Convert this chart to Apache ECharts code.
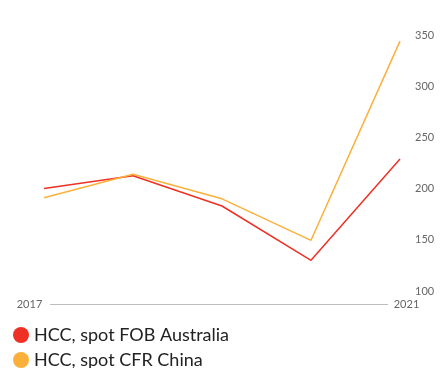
<!DOCTYPE html>
<html>
<head>
<meta charset="utf-8">
<script src="https://cdn.jsdelivr.net/npm/echarts@6/dist/echarts.min.js"></script>
<style>
  html, body { margin: 0; padding: 0; background: #fff; }
  #chart { width: 442px; height: 368px; }
</style>
</head>
<body>
<div id="chart"></div>
<script>
// Coking coal price series (USD/t), yearly
const years = ['2017', '2018', '2019', '2020', '2021'];
const fobAustralia = [200, 212.5, 183, 130, 229];
const cfrChina = [191, 214, 190, 149.5, 344];
const seriesNames = ['HCC, spot FOB Australia', 'HCC, spot CFR China'];
const yTicks = { min: 100, max: 350, step: 50 };

const FONT = 'Lato, "Noto Sans", sans-serif';
const RED = '#ee3124';
const ORANGE = '#fbb03b';

const chart = echarts.init(document.getElementById('chart'));

chart.setOption({
  animation: false,
  textStyle: { fontFamily: FONT },
  grid: { left: 44, right: 42, top: 35, bottom: 77 },
  legend: {
    orient: 'vertical',
    left: 13,
    top: 326,
    height: 80,
    padding: 0,
    icon: 'circle',
    itemWidth: 16,
    itemHeight: 16,
    itemGap: 7,
    selectedMode: false,
    textStyle: { fontSize: 18, lineHeight: 18, color: '#222', fontFamily: FONT },
    data: seriesNames
  },
  xAxis: {
    type: 'category',
    data: years,
    boundaryGap: false,
    offset: 13,
    axisLine: { show: false },
    axisTick: { show: false },
    axisLabel: {
      interval: 0,
      margin: 0,
      verticalAlign: 'middle',
      fontSize: 11,
      color: '#666',
      formatter: function (v, i) {
        if (i === 0) return '{first|' + v + '}';
        if (i === years.length - 1) return '{last|' + v + '}';
        return '';
      },
      rich: {
        first: { fontSize: 11, color: '#666', align: 'center', padding: [0, 29, 0, 0] },
        last: { fontSize: 11, color: '#666', align: 'center', padding: [0, 0, 0, 13] }
      }
    }
  },
  yAxis: {
    type: 'value',
    position: 'right',
    min: yTicks.min,
    max: yTicks.max,
    interval: yTicks.step,
    axisLine: { show: false },
    axisTick: { show: false },
    splitLine: { show: false },
    axisLabel: { margin: 15, fontSize: 11, color: '#666' }
  },
  graphic: [
    {
      type: 'line',
      shape: { x1: 50, y1: 304.5, x2: 388, y2: 304.5 },
      style: { stroke: '#bdbdbd', lineWidth: 1 },
      silent: true
    }
  ],
  series: [
    {
      name: seriesNames[0],
      type: 'line',
      data: fobAustralia,
      symbol: 'none',
      color: RED,
      lineStyle: { color: RED, width: 1.5 }
    },
    {
      name: seriesNames[1],
      type: 'line',
      data: cfrChina,
      symbol: 'none',
      color: ORANGE,
      lineStyle: { color: ORANGE, width: 1.5 }
    }
  ]
});
</script>
</body>
</html>
